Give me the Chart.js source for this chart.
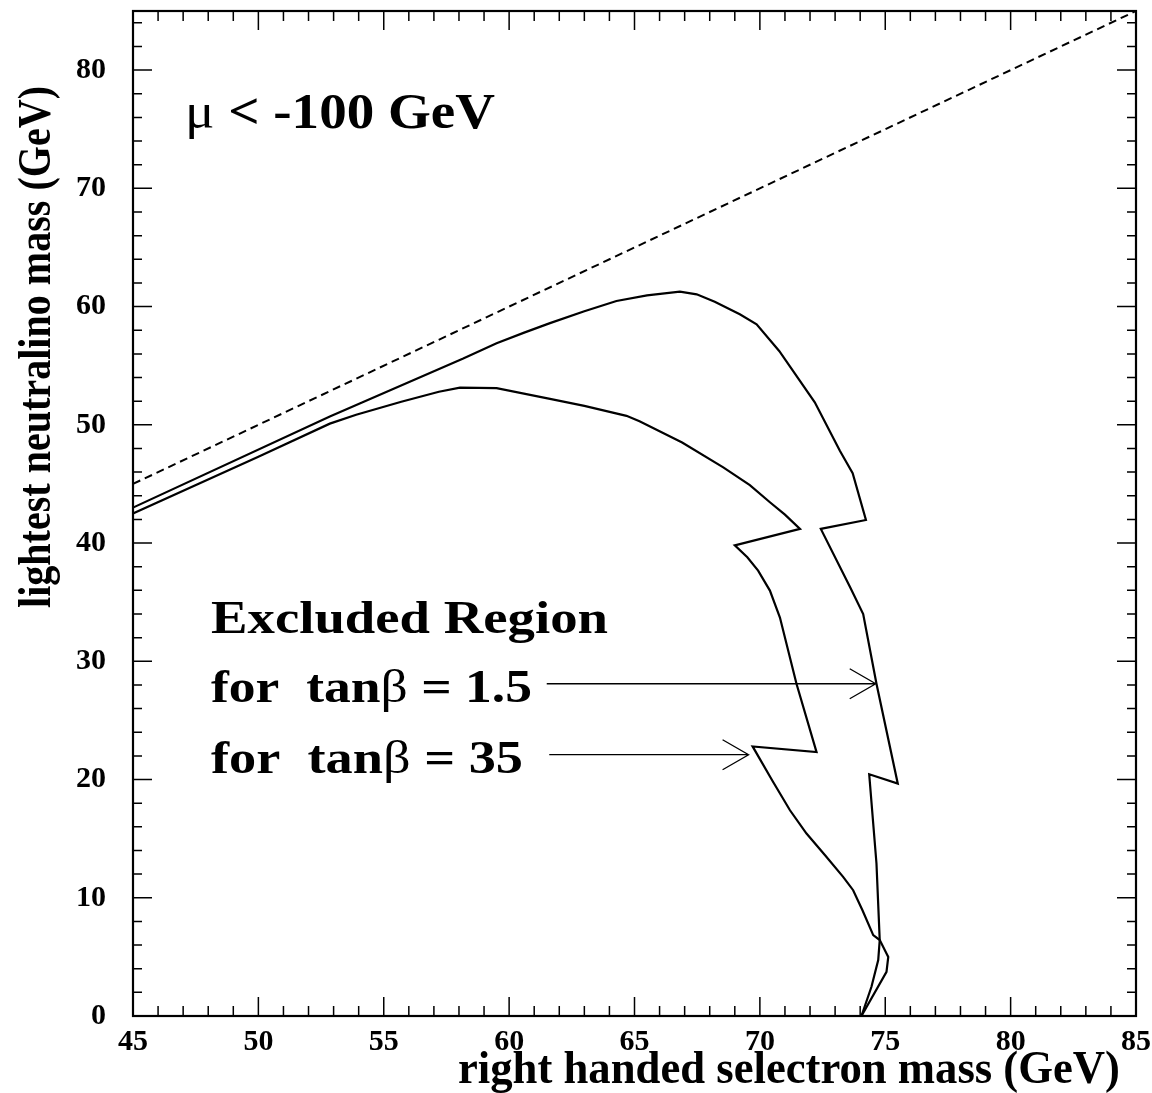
<!DOCTYPE html>
<html>
<head>
<meta charset="utf-8">
<script src="https://cdn.jsdelivr.net/npm/chart.js@4.4.0/dist/chart.umd.min.js"></script>
<style>html,body{margin:0;padding:0;background:#fff}</style>
</head>
<body>
<canvas id="plot" width="1152" height="1093"></canvas>
<script>
// excluded region boundary, tan beta = 1.5 (outer contour)
var tb15X = [45, 52.85, 58.17, 59.5, 60.6, 61.63, 63.0, 64.28, 65.5, 66.81, 67.48, 68.2, 69.2, 69.87, 70.77, 72.19, 73.19, 73.7, 74.23,
             72.43, 73.6, 74.12, 74.65, 75.5, 74.36, 74.65, 74.78, 74.72, 74.45, 74.05];
var tb15Y = [43.0, 50.7, 55.6, 56.9, 57.8, 58.6, 59.6, 60.47, 60.95, 61.26, 61.04, 60.4, 59.35, 58.5, 56.25, 51.9, 47.8, 45.9, 41.95,
             41.2, 36.26, 34.0, 28.1, 19.65, 20.44, 12.9, 6.42, 4.73, 2.47, 0.0];
// excluded region boundary, tan beta = 35 (inner contour)
var tb35X = [45, 50, 52.85, 53.9, 55.7, 57.2, 58.04, 59.5, 61.63, 63.0, 64.68, 65.2, 66.9, 68.54, 69.6, 70.4, 71.0, 71.6,
             69.0, 69.5, 69.93, 70.4, 70.8, 71.46, 72.26, 69.71, 70.5, 71.2, 71.86, 72.6, 73.32, 73.72, 74.1, 74.52, 74.78, 75.12, 75.05, 74.05];
var tb35Y = [42.5, 47.3, 50.1, 50.85, 51.95, 52.8, 53.15, 53.1, 52.2, 51.6, 50.76, 50.3, 48.5, 46.4, 44.9, 43.45, 42.4, 41.2,
             39.8, 38.8, 37.67, 35.98, 33.7, 28.1, 22.32, 22.8, 19.9, 17.4, 15.43, 13.6, 11.77, 10.64, 8.9, 6.84, 6.42, 5.0, 3.74, 0.0];
// kinematic limit m(chi) = m(selectron)
var diagX = [45, 85];
var diagY = [45, 85];

function pts(xs, ys) {
  return xs.map(function (x, i) { return {x: x, y: ys[i]}; });
}

var serif = '"Liberation Serif", "Times New Roman", serif';

// draw a run of text pieces squeezed/stretched to a given width
function fitText(ctx, parts, x, y, width) {
  var total = 0;
  parts.forEach(function (p) { ctx.font = p.f; total += ctx.measureText(p.t).width; });
  ctx.save();
  ctx.translate(x, y);
  ctx.scale(width / total, 1);
  ctx.textAlign = 'left';
  ctx.textBaseline = 'alphabetic';
  ctx.fillStyle = '#000';
  var cx = 0;
  parts.forEach(function (p) {
    ctx.font = p.f;
    ctx.fillText(p.t, cx, 0);
    cx += ctx.measureText(p.t).width;
  });
  ctx.restore();
}

function arrow(ctx, x0, x1, y) {
  ctx.save();
  ctx.strokeStyle = '#000';
  ctx.lineWidth = 1.3;
  ctx.beginPath();
  ctx.moveTo(x0, y); ctx.lineTo(x1, y);
  ctx.moveTo(x1 - 26, y - 15); ctx.lineTo(x1, y); ctx.lineTo(x1 - 26, y + 15);
  ctx.stroke();
  ctx.restore();
}

var decor = {
  id: 'decor',
  afterDraw: function (chart) {
    var ctx = chart.ctx, a = chart.chartArea;
    var xs = chart.scales.x, ys = chart.scales.y;
    ctx.save();
    ctx.strokeStyle = '#000';
    // inward ticks on all four sides
    ctx.lineWidth = 1.5;
    ctx.beginPath();
    for (var v = 45; v <= 85; v++) {
      var px = xs.getPixelForValue(v), len = v % 5 === 0 ? 19 : 10;
      ctx.moveTo(px, a.bottom); ctx.lineTo(px, a.bottom - len);
      ctx.moveTo(px, a.top); ctx.lineTo(px, a.top + len);
    }
    for (var w = 0; w <= 84; w += 2) {
      var py = ys.getPixelForValue(w), l2 = w % 10 === 0 ? 19 : 9;
      ctx.moveTo(a.left, py); ctx.lineTo(a.left + l2, py);
      ctx.moveTo(a.right, py); ctx.lineTo(a.right - l2, py);
    }
    ctx.stroke();
    // frame
    ctx.lineWidth = 2.2;
    ctx.strokeRect(a.left, a.top, a.right - a.left, a.bottom - a.top);
    ctx.restore();

    var X = function (v) { return xs.getPixelForValue(v); };
    var Y = function (v) { return ys.getPixelForValue(v); };

    fitText(ctx, [{t: 'μ', f: '50px ' + serif}, {t: ' < -100 GeV', f: 'bold 50px ' + serif}],
            X(47.07), Y(75.08), 310);
    fitText(ctx, [{t: 'Excluded Region', f: 'bold 46px ' + serif}], X(48.11), Y(32.43), 397);
    fitText(ctx, [{t: 'for  tan', f: 'bold 46px ' + serif}, {t: 'β', f: '46px ' + serif},
                  {t: ' = 1.5', f: 'bold 46px ' + serif}], X(48.11), Y(26.52), 321);
    fitText(ctx, [{t: 'for  tan', f: 'bold 46px ' + serif}, {t: 'β', f: '46px ' + serif},
                  {t: ' = 35', f: 'bold 46px ' + serif}], X(48.11), Y(20.52), 312);

    arrow(ctx, X(61.5), X(74.62), Y(28.1));
    arrow(ctx, X(61.6), X(69.55), Y(22.1));

    // axis titles
    fitText(ctx, [{t: 'right handed selectron mass (GeV)', f: 'bold 46px ' + serif}], 458, 1083, 662);
    ctx.save();
    ctx.translate(50, 608);
    ctx.rotate(-Math.PI / 2);
    fitText(ctx, [{t: 'lightest neutralino mass (GeV)', f: 'bold 46px ' + serif}], 0, 0, 522);
    ctx.restore();
  }
};

var tickFont = {family: serif, size: 30, weight: 'bold'};

new Chart(document.getElementById('plot').getContext('2d'), {
  type: 'scatter',
  data: {
    datasets: [
      {data: pts(diagX, diagY), showLine: true, borderColor: '#000', borderWidth: 2,
       borderDash: [8, 5], pointRadius: 0},
      {data: pts(tb15X, tb15Y), showLine: true, borderColor: '#000', borderWidth: 2.2,
       pointRadius: 0, tension: 0},
      {data: pts(tb35X, tb35Y), showLine: true, borderColor: '#000', borderWidth: 2.2,
       pointRadius: 0, tension: 0}
    ]
  },
  options: {
    responsive: false,
    animation: false,
    devicePixelRatio: 1,
    layout: {padding: {top: 11, right: 16, left: 0, bottom: 0}},
    plugins: {legend: {display: false}, tooltip: {enabled: false}},
    scales: {
      x: {
        type: 'linear', min: 45, max: 85,
        grid: {display: false, drawTicks: false},
        border: {display: false},
        ticks: {stepSize: 5, color: '#000', font: tickFont, padding: 8, maxRotation: 0},
        afterFit: function (s) { s.height = 77; s.paddingLeft = 0; s.paddingRight = 0; }
      },
      y: {
        type: 'linear', min: 0, max: 85,
        grid: {display: false, drawTicks: false},
        border: {display: false},
        ticks: {stepSize: 10, color: '#000', font: tickFont, padding: 27},
        afterBuildTicks: function (s) {
          s.ticks = s.ticks.filter(function (t) { return t.value % 10 === 0; });
        },
        afterFit: function (s) { s.width = 133; s.paddingTop = 0; s.paddingBottom = 0; }
      }
    }
  },
  plugins: [decor]
});
</script>
</body>
</html>
